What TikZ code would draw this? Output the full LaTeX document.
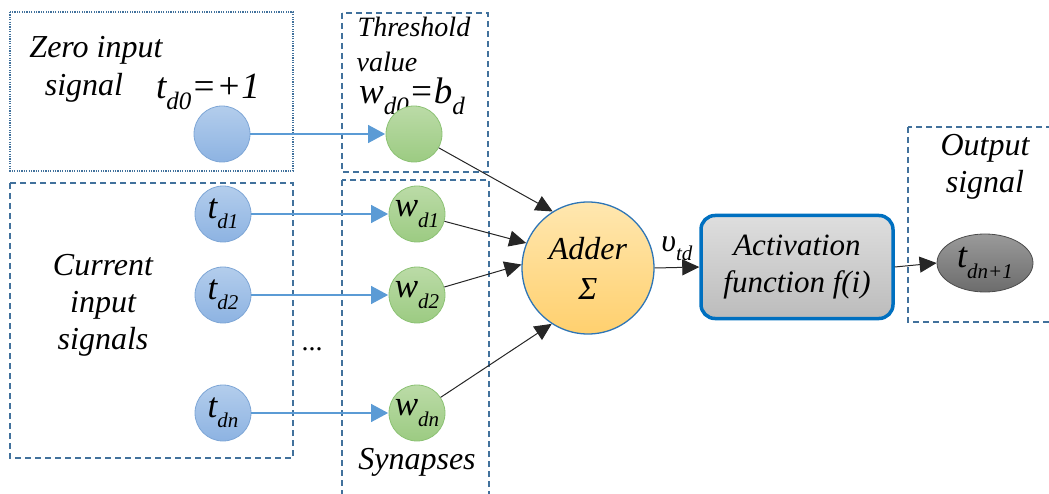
\documentclass[tikz,border=0pt]{standalone}
\usepackage{fontspec}
\setmainfont{Liberation Serif}
\usetikzlibrary{arrows.meta,shapes.geometric}
\definecolor{frameblue}{HTML}{41719C}
\definecolor{linkblue}{HTML}{5B9BD5}
\definecolor{bluetop}{HTML}{B3CDEC}
\definecolor{bluebot}{HTML}{8DB3E2}
\definecolor{blueedge}{HTML}{7EA6D6}
\definecolor{greentop}{HTML}{BBDBA7}
\definecolor{greenbot}{HTML}{9CCB82}
\definecolor{greenedge}{HTML}{8CC274}
\definecolor{addertop}{HTML}{FFE7B0}
\definecolor{adderbot}{HTML}{FFD06E}
\definecolor{adderedge}{HTML}{2E75B6}
\definecolor{acttop}{HTML}{DEDEDE}
\definecolor{actbot}{HTML}{BCBCBC}
\definecolor{actedge}{HTML}{0070C0}
\definecolor{outtop}{HTML}{9A9A9A}
\definecolor{outbot}{HTML}{6C6C6C}
\newcommand{\sbt}[1]{\raisebox{-0.3em}{\fontsize{25}{25}\selectfont\itshape #1}}
\newcommand{\sbs}[1]{\raisebox{-0.3em}{\fontsize{21}{21}\selectfont\itshape #1}}
\begin{document}
\begin{tikzpicture}[x=1pt,y=-1pt,
  dashbox/.style={draw=frameblue, line width=1.4pt, dash pattern=on 6pt off 4pt},
  dotbox/.style={draw=frameblue, line width=1.3pt, dash pattern=on 1.2pt off 1.2pt},
  lbl/.style={font=\fontsize{32}{37}\selectfont\itshape, inner sep=0pt, align=center},
  sym/.style={font=\fontsize{37}{37}\selectfont\itshape, inner sep=0pt},
  inode/.style={circle, minimum size=56pt, inner sep=0pt, draw=blueedge, line width=0.8pt,
     top color=bluetop, bottom color=bluebot, font=\fontsize{35}{35}\selectfont\itshape},
  wnode/.style={circle, minimum size=56pt, inner sep=0pt, draw=greenedge, line width=0.8pt,
     top color=greentop, bottom color=greenbot, font=\fontsize{35}{35}\selectfont\itshape},
  bluearrow/.style={draw=linkblue, line width=1.2pt, -{Triangle[length=17pt,width=18pt]}, shorten >=0.5pt},
  blackarrow/.style={draw=black!85, line width=1pt, -{Triangle[length=17pt,width=16pt]}},
]
\useasboundingbox (0,0) rectangle (1049,494);
\clip (0,0) rectangle (1049,494);

% frames
\draw[dotbox] (10,12) rectangle (293,171);
\draw[dashbox] (342,13) rectangle (488,172);
\draw[dashbox] (10,183) rectangle (293,458);
\draw[dashbox] (342,180) rectangle (489,510);
\draw[dashbox] (908,127) rectangle (1060,322);

% frame labels
\node[lbl] (zl1) at (96,50) {Zero input};
\node[lbl] (zl2) at (84,88) {signal};
\node[sym] (td0l) at (208,92) {t\sbt{d0}=+1};
\node[lbl, font=\fontsize{28}{32}\selectfont\itshape] (th1) at (414,27) {Threshold};
\node[lbl, font=\fontsize{28}{32}\selectfont\itshape] (th2) at (387,62) {value};
\node[sym] (wd0l) at (412,96) {w\sbt{d0}=b\sbt{d}};
\node[lbl] (cl) at (103,305) {Current\\input\\signals};
\node[lbl] (syn) at (417,462) {Synapses};
\node[font=\fontsize{28}{28}\selectfont, inner sep=0pt] (dots) at (312,349) {...};
\node[lbl] (ol) at (985,167) {Output\\signal};

% input nodes
\node[inode] (t0) at (222,134) {};
\node[inode] (t1) at (223,214) {t\sbs{d1}};
\node[inode] (t2) at (223,295) {t\sbs{d2}};
\node[inode] (tn) at (223,413) {t\sbs{dn}};

% weight nodes
\node[wnode] (w0) at (414,134) {};
\node[wnode] (w1) at (417,214) {w\sbs{d1}};
\node[wnode] (w2) at (417,295) {w\sbs{d2}};
\node[wnode] (wn) at (417,413) {w\sbs{dn}};

% adder
\node[circle, minimum size=132pt, inner sep=0pt, draw=adderedge, line width=1.3pt,
  top color=addertop, bottom color=adderbot, font=\fontsize{32}{40}\selectfont\itshape,
  align=center] (adder) at (588,268) {Adder\\Σ};

% activation
\node[rectangle, rounded corners=14pt, minimum width=192pt, minimum height=103pt,
  draw=actedge, line width=3.5pt, top color=acttop, bottom color=actbot,
  font=\fontsize{31}{37}\selectfont\itshape, align=center] (act) at (797,267) {Activation\\function f(i)};

% output
\node[ellipse, minimum width=96pt, minimum height=58pt, inner sep=0pt, draw=black!70,
  line width=0.8pt, top color=outtop, bottom color=outbot,
  font=\fontsize{36}{36}\selectfont\itshape] (out) at (985,263) {t\sbs{dn+1}};

% blue connectors
\draw[bluearrow] (t0) -- (w0);
\draw[bluearrow] (t1) -- (w1);
\draw[bluearrow] (t2) -- (w2);
\draw[bluearrow] (tn) -- (wn);

% black connectors
\draw[blackarrow] (w0) -- (adder.122);
\draw[blackarrow] (w1) -- (adder.158);
\draw[blackarrow] (w2) -- (adder.177);
\draw[blackarrow] (wn) -- (adder.237);
\draw[blackarrow] (adder.east) -- (act.west) node[midway, above=6pt, font=\fontsize{32}{32}\selectfont\itshape, inner sep=0pt] (vtd) {υ\sbs{td}};
\draw[blackarrow] (act.east) -- (out.west);
\end{tikzpicture}
\end{document}
